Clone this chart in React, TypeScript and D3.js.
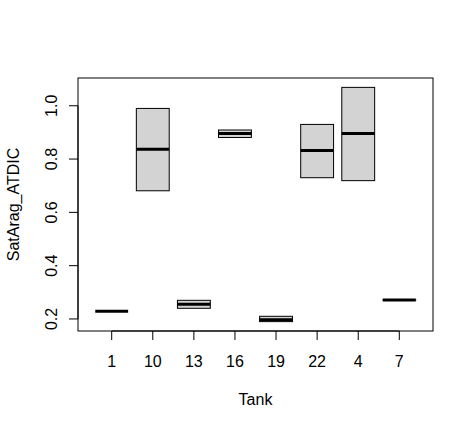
import React from "react";
import * as d3 from "d3";

const tanks = ["1", "10", "13", "16", "19", "22", "4", "7"];
const lower = [0.229, 0.681, 0.240, 0.881, 0.190, 0.730, 0.719, 0.271];
const medians = [0.229, 0.837, 0.255, 0.896, 0.197, 0.832, 0.896, 0.271];
const upper = [0.229, 0.990, 0.270, 0.909, 0.210, 0.930, 1.069, 0.272];
const yTicks = [0.2, 0.4, 0.6, 0.8, 1.0];

const W = 474;
const H = 429;
const L = 78, R = 433, T = 78, B = 331;
const FONT = "Arial, 'Liberation Sans', sans-serif";

export default function App() {
  const n = tanks.length;
  const ext = n * 0.04;
  const x = d3.scaleLinear().domain([0.5 - ext, n + 0.5 + ext]).range([L, R]);
  const dMin = d3.min(lower) as number;
  const dMax = d3.max(upper) as number;
  const pad = (dMax - dMin) * 0.04;
  const y = d3.scaleLinear().domain([dMin - pad, dMax + pad]).range([B, T]);
  const bw = 0.8 * (x(1) - x(0));

  return (
    <div style={{ position: "absolute", left: 0, top: 0 }}>
      <svg width={W} height={H} style={{ display: "block", background: "#fff" }}>
        {tanks.map((t, i) => {
          const cx = x(i + 1);
          const y0 = y(upper[i]);
          const y1 = y(lower[i]);
          return (
            <g key={t}>
              <rect x={cx - bw / 2} y={y0} width={bw} height={Math.max(y1 - y0, 0)} fill="#d3d3d3" stroke="#000" strokeWidth={1} />
              <line x1={cx - bw / 2} x2={cx + bw / 2} y1={y(medians[i])} y2={y(medians[i])} stroke="#000" strokeWidth={3} />
            </g>
          );
        })}
        <rect x={L} y={T} width={R - L} height={B - T} fill="none" stroke="#000" strokeWidth={1} />
        {/* y axis */}
        <line x1={L} x2={L} y1={y(yTicks[0])} y2={y(yTicks[yTicks.length - 1])} stroke="#000" />
        {yTicks.map((v) => (
          <g key={v}>
            <line x1={L - 9} x2={L} y1={y(v)} y2={y(v)} stroke="#000" />
            <text
              transform={`translate(${L - 21.5},${y(v)}) rotate(-90)`}
              textAnchor="middle"
              fontFamily={FONT}
              fontSize={16}
              fill="#000"
            >
              {v.toFixed(1)}
            </text>
          </g>
        ))}
        {/* x axis */}
        <line x1={x(1)} x2={x(n)} y1={B} y2={B} stroke="#000" />
        {tanks.map((t, i) => (
          <g key={t}>
            <line x1={x(i + 1)} x2={x(i + 1)} y1={B} y2={B + 9} stroke="#000" />
            <text x={x(i + 1)} y={366.5} textAnchor="middle" fontFamily={FONT} fontSize={16} fill="#000">
              {t}
            </text>
          </g>
        ))}
        <text x={(L + R) / 2} y={405} textAnchor="middle" fontFamily={FONT} fontSize={16} fill="#000">
          Tank
        </text>
        <text
          transform={`translate(18.5,${(T + B) / 2}) rotate(-90)`}
          textAnchor="middle"
          fontFamily={FONT}
          fontSize={16}
          fill="#000"
        >
          SatArag_ATDIC
        </text>
      </svg>
    </div>
  );
}
